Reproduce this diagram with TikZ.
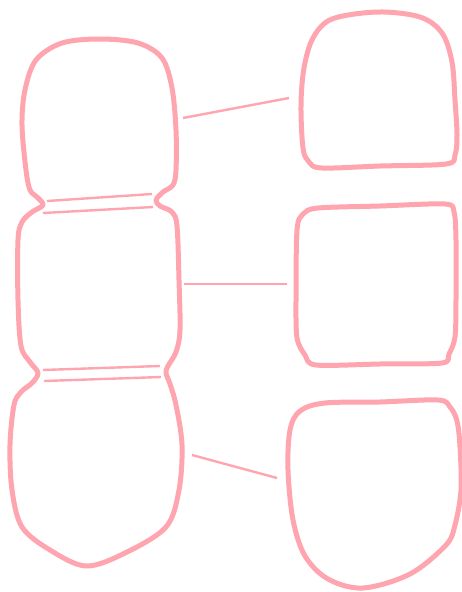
\documentclass[tikz,border=0pt]{standalone}
\begin{document}
\begin{tikzpicture}[x=1pt,y=-1pt]
\definecolor{pinkline}{HTML}{FFA5AF}
\tikzset{
  blob/.style={draw=pinkline,line width=5pt,line join=round},
  link/.style={draw=pinkline,line width=2.4pt},
}
\useasboundingbox (0,0) rectangle (462,592);
% left stacked outline
\draw[blob] plot[smooth cycle,tension=0.55] coordinates {
 (100,39) (138,43) (162,58) (172,88) (176,130) (176,170) (173,185) (163,192) (156,200)
 (160,206) (172,212) (177,226) (179,280) (180,330) (176,352) (168,366) (166,373)
 (170,384) (176,405) (182,445) (179,490) (166,527) (125,553) (86,566) (50,550) (22,527)
 (12,490) (10,445) (14,405) (21,392) (32,383) (38,373) (30,362) (21,346) (18,300) (18,240)
 (22,222) (32,212) (43,205) (37,197) (30,190) (26,170) (22,125) (25,90) (36,60) (62,43)};
% right blobs
\draw[blob] plot[smooth cycle,tension=0.55] coordinates {
 (378,12) (420,17) (442,33) (452,62) (455,100) (457,135) (455,155) (446,164) (380,166) (322,168)
 (309,162) (303,148) (301,105) (304,68) (313,38) (332,19)};
\draw[blob] plot[smooth cycle,tension=0.5] coordinates {
 (318,208) (380,206) (445,204) (454,212) (456,240) (456,300) (455,337) (449,354) (442,363)
 (380,364) (316,365) (305,355) (297,338) (296,300) (297,230) (303,214)};
\draw[blob] plot[smooth cycle,tension=0.55] coordinates {
 (325,403) (380,402) (438,400) (450,407) (457,421) (460,447) (461,490) (455,525) (446,545) (410,574) (363,588)
 (328,579) (305,556) (293,520) (288,470) (290,430) (300,411)};
% connector endpoints
\coordinate (n1a) at (47,201); \coordinate (n1b) at (152,194);
\coordinate (n2a) at (43,213); \coordinate (n2b) at (153,207);
\coordinate (n3a) at (43,370); \coordinate (n3b) at (160,366);
\coordinate (n4a) at (44,381); \coordinate (n4b) at (161,377);
\coordinate (c1a) at (183,118); \coordinate (c1b) at (289,98);
\coordinate (c2a) at (184,284); \coordinate (c2b) at (287,284);
\coordinate (c3a) at (192,455); \coordinate (c3b) at (277,478);
\draw[link] (n1a) -- (n1b);
\draw[link] (n2a) -- (n2b);
\draw[link] (n3a) -- (n3b);
\draw[link] (n4a) -- (n4b);
\draw[link] (c1a) -- (c1b);
\draw[link] (c2a) -- (c2b);
\draw[link] (c3a) -- (c3b);
\end{tikzpicture}
\end{document}
